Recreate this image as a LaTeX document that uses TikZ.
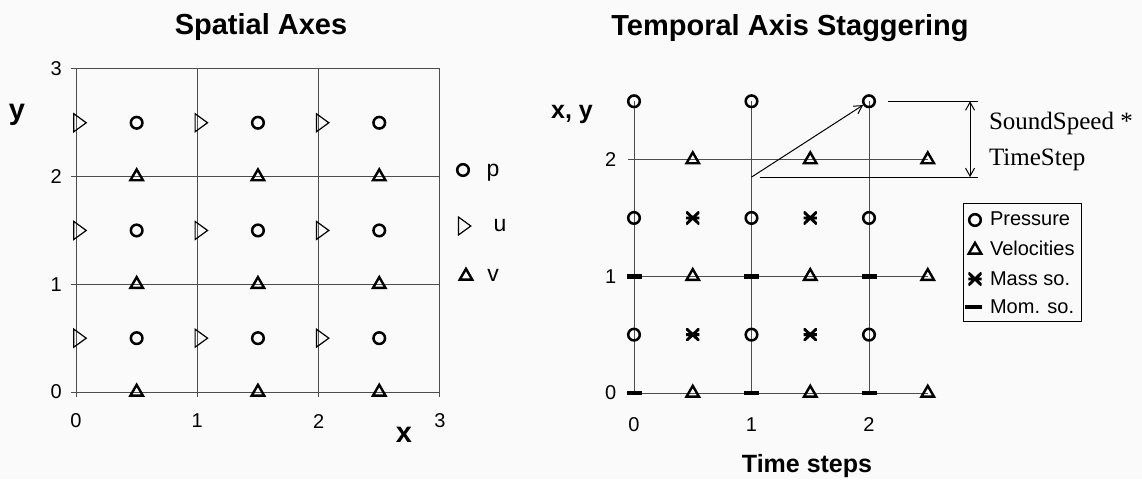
\documentclass[tikz,border=0pt]{standalone}
\usepackage{fontspec}
\setmainfont{Liberation Sans}
\newfontfamily\timesfont{Liberation Serif}
\usetikzlibrary{arrows.meta,shapes.geometric}

\tikzset{
  gridline/.style={gray!60!black,line width=0.45pt},
  pmark/.style={circle,draw,line width=1.25pt,inner sep=0pt,minimum size=5.8pt},
  vmark/.style={regular polygon,regular polygon sides=3,draw,line width=1.2pt,inner sep=0pt,minimum size=7.2pt},
  umark/.style={isosceles triangle,isosceles triangle stretches,draw,line width=0.6pt,inner sep=0pt,minimum width=9pt,minimum height=6.2pt},
  massmark/.style={inner sep=0pt,minimum width=6.6pt,minimum height=6.2pt,
    path picture={\draw[line width=1.45pt]
      (path picture bounding box.south west) -- (path picture bounding box.north east)
      (path picture bounding box.north west) -- (path picture bounding box.south east)
      (path picture bounding box.west) -- (path picture bounding box.east);}},
  mommark/.style={fill,inner sep=0pt,minimum width=7.5pt,minimum height=2.3pt},
  titlelabel/.style={font=\fontsize{14.5}{17}\selectfont\bfseries},
  axislabel/.style={font=\fontsize{12.5}{15}\selectfont\bfseries},
  ticklabel/.style={font=\fontsize{10}{12}\selectfont},
  keylabel/.style={font=\fontsize{11.5}{13}\selectfont},
  legendlabel/.style={font=\fontsize{10}{12}\selectfont,anchor=west},
}

\begin{document}
\begin{tikzpicture}[x=0.5pt,y=-0.5pt,>={Straight Barb[length=4pt,width=4.5pt]}]
\useasboundingbox[fill=black!2] (0,0) rectangle (1142,479);

\node[titlelabel] (ttlspace) at (261,27) {Spatial Axes};
\node[titlelabel] (ttltime) at (790,28) {Temporal Axis Staggering};

% spatial grid
\begin{scope}[shift={(76,392)},x=60.65pt,y=53.85pt]
\foreach \k in {0,...,3} {
  \draw[gridline] (-0.04,\k) -- (3,\k);
  \draw[gridline] (\k,-0.045) -- (\k,3);
  \node[ticklabel,anchor=east] (ly\k) at (-0.06,\k) {\k};
  \node[ticklabel] (lx\k) at (\k,-0.27) {\k};
}
\foreach \i/\a in {0/0.5,1/1.5,2/2.5}
  \foreach \j/\b in {0/0.5,1/1.5,2/2.5} {
    \node[pmark] (p\i\j) at (\a,\b) {};
    \node[umark] (u\i\j) at (\i+0.02,\b) {};
    \node[vmark] (v\i\j) at (\a,\j) {};
  }
\end{scope}
\node[font=\fontsize{14.5}{17}\selectfont\bfseries] (ylab) at (17,115) {y};
\node[font=\fontsize{14.5}{17}\selectfont\bfseries] (xlab) at (404,435) {x};

\node[pmark] (keyp) at (463,170) {};
\node[keylabel] (keyptxt) at (493,173) {p};
\node[umark] (keyu) at (463,226) {};
\node[keylabel] (keyutxt) at (500,226) {u};
\node[vmark] (keyv) at (466,276) {};
\node[keylabel] (keyvtxt) at (493,275) {v};

% temporal grid
\begin{scope}[shift={(634,393)},x=58.75pt,y=58.35pt]
\foreach \k in {0,1,2} {
  \draw[gridline] (-0.05,\k) -- (2.5,\k);
  \draw[gridline] (\k,0) -- (\k,2.5);
  \node[ticklabel,anchor=east] (ty\k) at (-0.09,\k) {\k};
  \node[ticklabel] (tx\k) at (\k,-0.27) {\k};
}
\foreach \i in {0,1,2}
  \foreach \j/\b in {0/0.5,1/1.5,2/2.5}
    \node[pmark] (q\i\j) at (\i,\b) {};
\foreach \a in {0.5,1.5,2.5}
  \foreach \j in {0,1,2}
    \node[vmark] at (\a,\j) {};
\foreach \a in {0.5,1.5}
  \foreach \b in {0.5,1.5}
    \node[massmark] at (\a,\b) {};
\foreach \i in {0,1,2}
  \foreach \j in {0,1}
    \node[mommark] at (\i,\j) {};
\coordinate (dstart) at (1,1.85);
\coordinate (dlow) at (1.07,1.85);
\coordinate (dlowend) at (2.93,1.85);
\coordinate (dtopend) at (2.93,2.5);
\coordinate (dimtop) at (2.86,2.5);
\coordinate (dimbot) at (2.86,1.85);
\end{scope}
\draw[->,line width=0.5pt] (dstart) -- (q22);
\draw[line width=0.5pt] (dlow) -- (dlowend);
\draw[line width=0.5pt] ([xshift=6pt]q22.east) -- (dtopend);
\draw[<->,line width=0.5pt] (dimtop) -- (dimbot);
\node[font=\timesfont\fontsize{12.5}{15}\selectfont,anchor=west] (cdt1) at (982,123) {SoundSpeed *};
\node[font=\timesfont\fontsize{12.5}{15}\selectfont,anchor=west] (cdt2) at (982,160) {TimeStep};

\node[axislabel] (tylab) at (572,114) {x, y};
\node[axislabel] (txlab) at (807,466) {Time steps};

% legend
\node[draw,line width=0.5pt,anchor=north west,inner sep=0pt,minimum width=59pt,minimum height=59pt] (legbox) at (963,203) {};
\node[pmark] (legp) at (975,220) {};
\node[legendlabel] (legptxt) at (983,219) {Pressure};
\node[vmark] (legv) at (975,250) {};
\node[legendlabel] (legvtxt) at (983,248) {Velocities};
\node[massmark] (legm) at (975,279) {};
\node[legendlabel] (legmtxt) at (983,279) {Mass so.};
\node[mommark,minimum width=8.5pt] (legs) at (973,307) {};
\node[legendlabel] (legstxt) at (983,307) {Mom. so.};
\end{tikzpicture}
\end{document}
